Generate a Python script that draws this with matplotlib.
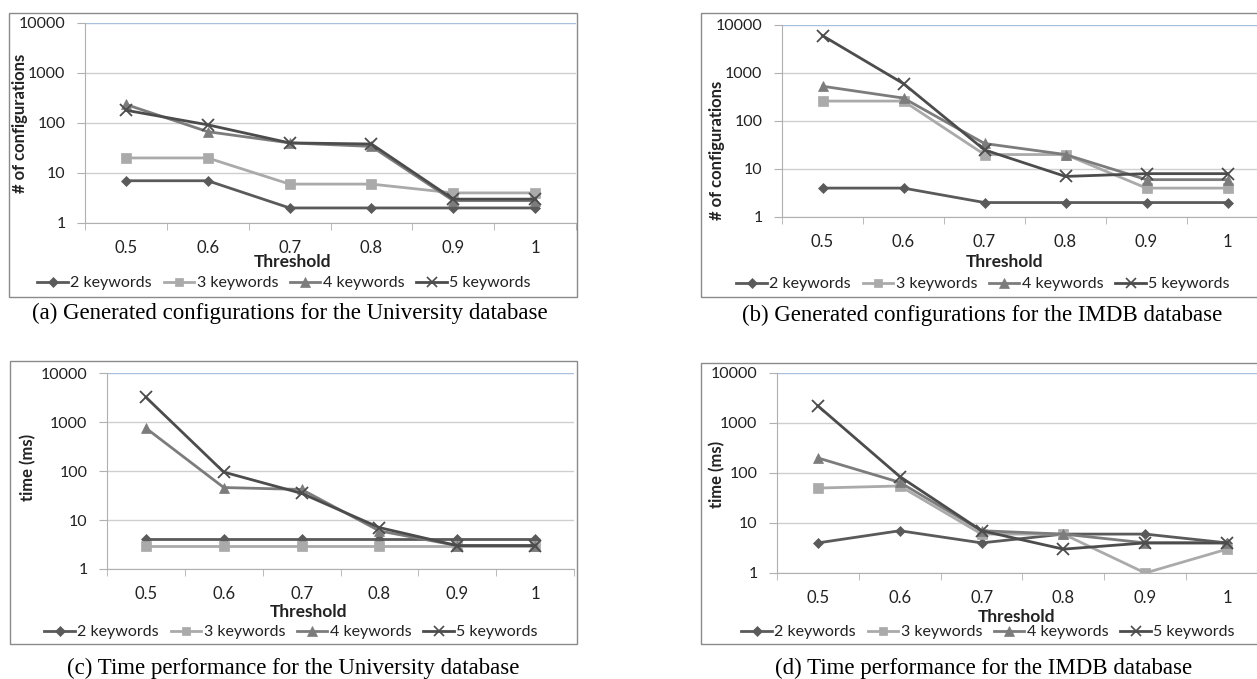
import matplotlib
matplotlib.use("Agg")
import matplotlib.pyplot as plt
from matplotlib.patches import Rectangle
from matplotlib.lines import Line2D

plt.rcParams['font.family'] = ['Lato', 'DejaVu Sans']

W, H = 1257, 679

thresholds = ["0.5", "0.6", "0.7", "0.8", "0.9", "1"]
series_names = ["2 keywords", "3 keywords", "4 keywords", "5 keywords"]

# (a) generated configurations, University
univ_cfg_2 = [7, 7, 2, 2, 2, 2]
univ_cfg_3 = [20, 20, 6, 6, 4, 4]
univ_cfg_4 = [235, 67, 40, 34, 2.8, 2.8]
univ_cfg_5 = [180, 92, 40, 38, 3, 3]

# (b) generated configurations, IMDB
imdb_cfg_2 = [4, 4, 2, 2, 2, 2]
imdb_cfg_3 = [260, 260, 20, 20, 4, 4]
imdb_cfg_4 = [530, 300, 34, 20, 6, 6]
imdb_cfg_5 = [6000, 600, 25, 7, 8, 8]

# (c) time, University
univ_time_2 = [4, 4, 4, 4, 4, 4]
univ_time_3 = [3, 3, 3, 3, 3, 3]
univ_time_4 = [750, 46, 42, 6, 3, 3]
univ_time_5 = [3200, 95, 35, 7, 3, 3]

# (d) time, IMDB
imdb_time_2 = [4, 7, 4, 6, 6, 4]
imdb_time_3 = [50, 55, 6, 6, 1, 3]
imdb_time_4 = [200, 65, 7, 6, 4, 4]
imdb_time_5 = [2200, 85, 7, 3, 4, 4]

colors = ["#5a5a5a", "#aaaaaa", "#7c7c7c", "#4c4c4c"]
markers = ["D", "s", "^", "x"]
msizes = [5.5, 7, 7.5, 8]


def box(l, t, r, b):
    return [l / W, 1 - b / H, (r - l) / W, (b - t) / H]


def fx(x):
    return x / W


def fy(y):
    return 1 - y / H


fig = plt.figure(figsize=(W / 100, H / 100), dpi=100)

panels = [
    dict(series=[univ_cfg_2, univ_cfg_3, univ_cfg_4, univ_cfg_5],
         ax=(85, 23, 576, 223), frame=(9, 13, 577, 297),
         ylabel="# of configurations", ylab_xy=(20, 123),
         thr_xy=(293, 262), leg_xy=(284, 283),
         caption="(a) Generated configurations for the University database", cap_xy=(290, 313)),
    dict(series=[imdb_cfg_2, imdb_cfg_3, imdb_cfg_4, imdb_cfg_5],
         ax=(782, 25, 1268, 217), frame=(701, 13, 1270, 297),
         ylabel="# of configurations", ylab_xy=(717, 150),
         thr_xy=(1004, 262), leg_xy=(983, 284),
         caption="(b) Generated configurations for the IMDB database", cap_xy=(982, 315)),
    dict(series=[univ_time_2, univ_time_3, univ_time_4, univ_time_5],
         ax=(107, 373, 574, 569), frame=(10, 361, 577, 644),
         ylabel="time (ms)", ylab_xy=(28, 467),
         thr_xy=(308, 612), leg_xy=(291, 632),
         caption="(c) Time performance for the University database", cap_xy=(293, 668)),
    dict(series=[imdb_time_2, imdb_time_3, imdb_time_4, imdb_time_5],
         ax=(777, 373, 1268, 573), frame=(701, 363, 1270, 644),
         ylabel="time (ms)", ylab_xy=(717, 474),
         thr_xy=(1016, 617), leg_xy=(988, 632),
         caption="(d) Time performance for the IMDB database", cap_xy=(984, 668)),
]

for p in panels:
    fl, ft, fr, fb = p["frame"]
    fig.patches.append(Rectangle((fx(fl), fy(fb)), (fr - fl) / W, (fb - ft) / H,
                                 transform=fig.transFigure, fill=False,
                                 edgecolor="#8a8a8a", linewidth=1.0))

    ax = fig.add_axes(box(*p["ax"]))
    xs = list(range(len(thresholds)))
    for vals, c, m, ms in zip(p["series"], colors, markers, msizes):
        ax.plot(xs, vals, color=c, marker=m, markersize=ms, linewidth=2,
                markeredgewidth=1.3 if m == "x" else 0.5, markeredgecolor=c)
    ax.set_yscale("log")
    ax.set_ylim(1, 10000)
    ax.set_xlim(-0.5, len(thresholds) - 0.5)
    ax.set_yticks([1, 10, 100, 1000, 10000])
    ax.set_yticklabels(["1", "10", "100", "1000", "10000"])
    ax.minorticks_off()
    ax.set_xticks(xs)
    ax.set_xticklabels(thresholds)
    ax.set_xticks([x - 0.5 for x in range(len(thresholds) + 1)], minor=True)
    ax.tick_params(axis="x", which="major", length=0, pad=12, labelsize=12, colors="#222222")
    ax.tick_params(axis="x", which="minor", length=5, direction="out", color="#b0b0b0")
    ax.tick_params(axis="y", which="major", length=6, direction="out", color="#b0b0b0",
                   pad=8, labelsize=11.5, labelcolor="#222222")
    ax.grid(axis="y", color="#cfcfcf", linewidth=1)
    ax.set_axisbelow(True)
    gl = ax.get_ygridlines()
    gl[-1].set_color("#a9c0dc")
    for s in ["top", "right"]:
        ax.spines[s].set_visible(False)
    ax.spines["left"].set_color("#b0b0b0")
    ax.spines["bottom"].set_color("#b0b0b0")

    fig.text(fx(p["ylab_xy"][0]), fy(p["ylab_xy"][1]), p["ylabel"], rotation=90,
             ha="center", va="center", fontsize=12, fontweight="bold", color="#222222")
    fig.text(fx(p["thr_xy"][0]), fy(p["thr_xy"][1]), "Threshold",
             ha="center", va="center", fontsize=12.5, fontweight="bold", color="#222222")

    handles = [Line2D([], [], color=c, marker=m, markersize=ms * 0.9, linewidth=2,
                      markeredgewidth=1.2 if m == "x" else 0.5, markeredgecolor=c)
               for c, m, ms in zip(colors, markers, msizes)]
    fig.legend(handles, series_names, loc="center", ncol=4, frameon=False,
               bbox_to_anchor=(fx(p["leg_xy"][0]), fy(p["leg_xy"][1])),
               fontsize=11.5, handlelength=1.9, handletextpad=0.15,
               columnspacing=0.75, borderpad=0, labelcolor="#222222")

    fig.text(fx(p["cap_xy"][0]), fy(p["cap_xy"][1]), p["caption"],
             ha="center", va="center", fontsize=16.5, family="Liberation Serif")

fig.savefig("out.png", dpi=100)
